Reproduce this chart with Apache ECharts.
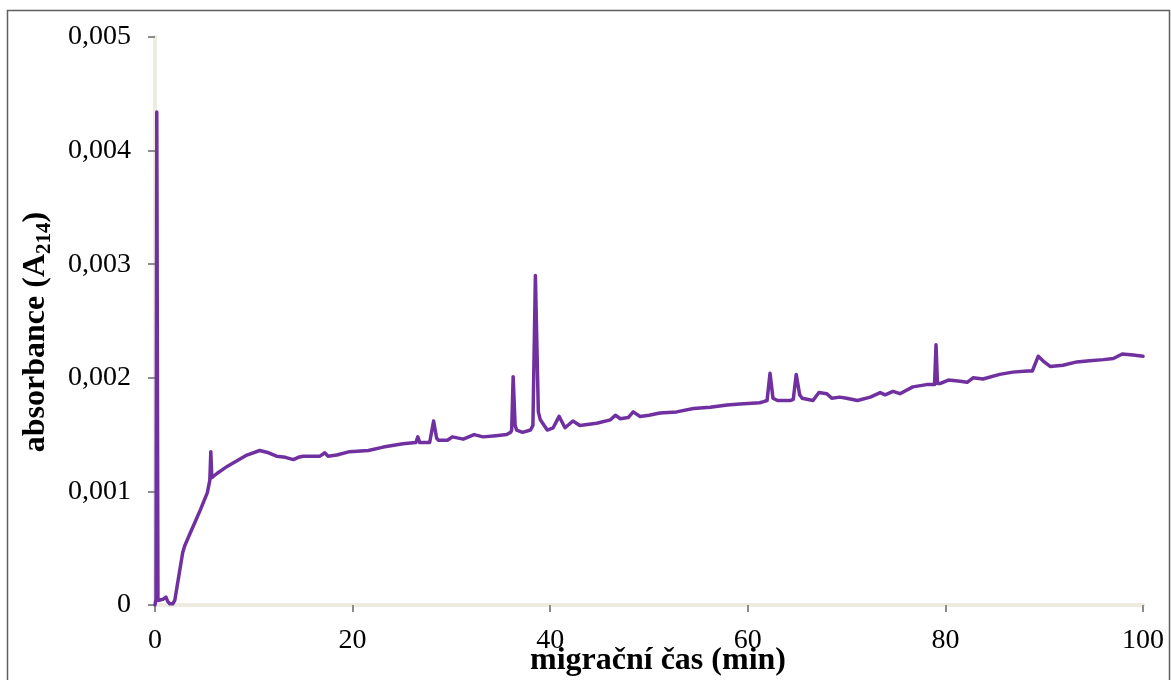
<!DOCTYPE html>
<html>
<head>
<meta charset="utf-8">
<script src="https://cdn.jsdelivr.net/npm/echarts@6/dist/echarts.min.js"></script>
<style>
  html, body { margin: 0; padding: 0; background: #ffffff; }
  #chart { width: 1171px; height: 680px; }
</style>
</head>
<body>
<div id="chart"></div>
<script>
// Electropherogram: absorbance at 214 nm versus migration time
const time = [
  0.00, 0.10, 0.18, 0.30, 0.5, 0.8, 1.1, 1.3, 1.5, 1.8, 2.0, 2.4, 2.8, 3.0, 3.5, 4.0, 4.6, 5.3,
  5.55, 5.65, 5.75, 6.3, 6.8, 7.3, 8.3, 9.3, 10.6, 11.5, 12.3, 13.2, 14.0, 14.5, 15.0, 16.0,
  16.7, 17.2, 17.5, 18.4, 19.7, 21.6, 23.1, 25.1, 26.4, 26.6, 26.8, 27.8, 27.95, 28.2, 28.5,
  28.7, 29.6, 30.1, 31.2, 32.3, 33.2, 34.5, 35.6, 36.0, 36.1, 36.25, 36.45, 36.6, 37.2, 38.0,
  38.25, 38.5, 38.8, 39.0, 39.7, 40.3, 40.9, 41.5, 42.3, 43.0, 44.7, 46.1, 46.6, 47.1, 47.9,
  48.4, 49.1, 50.0, 51.1, 52.8, 54.5, 56.2, 57.9, 59.2, 61.2, 61.6, 61.95, 62.25, 62.55, 63.0,
  64.3, 64.6, 64.9, 65.25, 65.5, 66.6, 67.2, 68.0, 68.5, 69.3, 70.0, 71.1, 72.4, 73.4, 73.9,
  74.7, 75.4, 76.7, 78.1, 78.9, 79.05, 79.2, 79.5, 80.3, 81.5, 82.2, 82.8, 83.8, 85.5, 86.8,
  88.3, 88.8, 89.4, 90.0, 90.6, 91.9, 93.3, 94.6, 96.0, 97.0, 97.9, 99.0, 100.0
];
const absorbance = [
  0.00000, 0.00005, 0.00434, 0.00004, 0.00004, 0.00005, 0.00007, 0.00003, 0.00001, 0.00001,
  0.00004, 0.00025, 0.00046, 0.00052, 0.00062, 0.00072, 0.00084, 0.00099,
  0.00110, 0.00135, 0.00112, 0.00116, 0.00119, 0.00122, 0.00127, 0.00132, 0.00136, 0.00134,
  0.00131, 0.00130, 0.00128, 0.00130, 0.00131, 0.00131,
  0.00131, 0.00134, 0.00131, 0.00132, 0.00135, 0.00136, 0.00139, 0.00142, 0.00143, 0.00148,
  0.00143, 0.00143, 0.00144, 0.00162, 0.00147,
  0.00145, 0.00145, 0.00148, 0.00146, 0.00150, 0.00148, 0.00149, 0.00150, 0.00152, 0.00154,
  0.00201, 0.00158, 0.00154, 0.00152, 0.00154,
  0.00158, 0.00290, 0.00170, 0.00163, 0.00154, 0.00156, 0.00166, 0.00156, 0.00162, 0.00158,
  0.00160, 0.00163, 0.00167, 0.00164, 0.00165,
  0.00170, 0.00166, 0.00167, 0.00169, 0.00170, 0.00173, 0.00174, 0.00176, 0.00177, 0.00178,
  0.00179, 0.00180, 0.00204, 0.00182, 0.00180,
  0.00180, 0.00181, 0.00203, 0.00185, 0.00182, 0.00180, 0.00187, 0.00186, 0.00182, 0.00183,
  0.00182, 0.00180, 0.00183, 0.00187, 0.00185,
  0.00188, 0.00186, 0.00192, 0.00194, 0.00194, 0.00229, 0.00195, 0.00195, 0.00198, 0.00197,
  0.00196, 0.00200, 0.00199, 0.00203, 0.00205,
  0.00206, 0.00206, 0.00219, 0.00214, 0.00210, 0.00211, 0.00214, 0.00215, 0.00216, 0.00217,
  0.00221, 0.00220, 0.00219
];
const xTicks = [0, 20, 40, 60, 80, 100];
const yTicks = [0, 0.001, 0.002, 0.003, 0.004, 0.005];

const points = time.map((t, i) => [t, absorbance[i]]);

const serif = '"Liberation Serif", "DejaVu Serif", serif';
const axisGray = '#8c8c8c';
const frameBeige = '#eeece1';

const chart = echarts.init(document.getElementById('chart'), null, { renderer: 'canvas' });

chart.setOption({
  animation: false,
  backgroundColor: '#ffffff',
  graphic: [{
    type: 'rect',
    shape: { x: 7.5, y: 10.5, width: 1162, height: 720 },
    style: { fill: 'none', stroke: '#5f5f5f', lineWidth: 1.5 },
    silent: true
  }],
  grid: { left: 155, top: 37, right: 28, bottom: 75, containLabel: false, outerBoundsMode: 'none' },
  xAxis: [{
    type: 'value',
    min: xTicks[0],
    max: xTicks[xTicks.length - 1],
    interval: xTicks[1] - xTicks[0],
    position: 'bottom',
    name: 'migrační čas (min)',
    nameLocation: 'middle',
    nameGap: 40,
    nameMoveOverlap: false,
    nameTextStyle: { fontFamily: serif, fontSize: 32, fontWeight: 'bold', color: '#000', padding: [0, 0, 0, 18] },
    axisLine: { show: true, onZero: false, lineStyle: { color: axisGray, width: 2 } },
    axisTick: { show: true, length: 7, lineStyle: { color: axisGray, width: 2 } },
    axisLabel: { fontFamily: serif, fontSize: 28, color: '#000', margin: 22 },
    splitLine: { show: false }
  }, {
    type: 'value',
    min: xTicks[0],
    max: xTicks[xTicks.length - 1],
    position: 'top',
    axisLine: { show: true, lineStyle: { color: frameBeige, width: 4 } },
    axisTick: { show: false },
    axisLabel: { show: false },
    splitLine: { show: false }
  }],
  yAxis: [{
    type: 'value',
    min: yTicks[0],
    max: yTicks[yTicks.length - 1],
    interval: yTicks[1] - yTicks[0],
    position: 'left',
    name: '{b|absorbance (A}{s|214}{b|)}',
    nameLocation: 'middle',
    nameGap: 100,
    nameTextStyle: {
      padding: [0, 22, 0, 0],
      rich: {
        b: { fontFamily: serif, fontSize: 32, fontWeight: 'bold', color: '#000', verticalAlign: 'top' },
        s: { fontFamily: serif, fontSize: 21, fontWeight: 'bold', color: '#000', verticalAlign: 'top', padding: [14, 0, 0, 0] }
      }
    },
    axisLine: { show: true, onZero: false, lineStyle: { color: axisGray, width: 2 } },
    axisTick: { show: true, length: 7, lineStyle: { color: axisGray, width: 2 } },
    axisLabel: {
      fontFamily: serif, fontSize: 28, color: '#000', margin: 24,
      formatter: v => (v === 0 ? '0' : v.toFixed(3).replace('.', ','))
    },
    splitLine: { show: false }
  }, {
    type: 'value',
    min: yTicks[0],
    max: yTicks[yTicks.length - 1],
    position: 'right',
    axisLine: { show: true, lineStyle: { color: frameBeige, width: 4 } },
    axisTick: { show: false },
    axisLabel: { show: false },
    splitLine: { show: false }
  }],
  series: [{
    type: 'line',
    xAxisIndex: 0,
    yAxisIndex: 0,
    data: points,
    showSymbol: false,
    symbol: 'none',
    lineStyle: { color: '#7030a0', width: 3.5, join: 'round', cap: 'round' },
    z: 5
  }]
});
</script>
</body>
</html>
